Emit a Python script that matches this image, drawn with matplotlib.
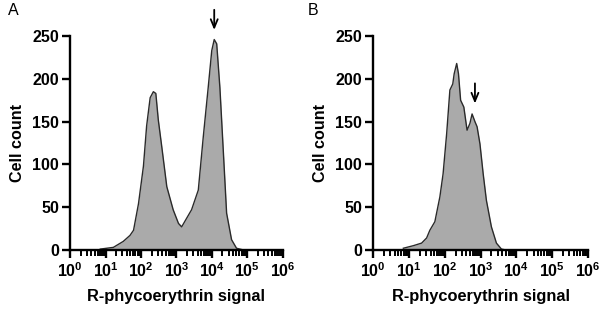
import matplotlib
matplotlib.use("Agg")
import matplotlib.pyplot as plt
import numpy as np

plt.rcParams['font.family'] = ['Liberation Sans', 'DejaVu Sans']
plt.rcParams['mathtext.fontset'] = 'custom'
plt.rcParams['mathtext.rm'] = 'Liberation Sans:bold'
plt.rcParams['mathtext.bf'] = 'Liberation Sans:bold'

# histogram outlines, x as log10 of signal
a_log = [0.85, 1.22, 1.50, 1.69, 1.79, 1.93, 2.07, 2.16, 2.26, 2.35, 2.42, 2.49, 2.59, 2.73,
         2.91, 3.06, 3.15, 3.29, 3.43, 3.62, 3.76, 3.90, 4.00, 4.07, 4.14, 4.23, 4.33, 4.42,
         4.56, 4.70, 4.89]
a_count = [1, 3, 10, 17, 23, 54, 98, 145, 178, 185, 183, 152, 120, 74,
           47, 31, 27, 37, 47, 70, 132, 190, 233, 246, 241, 190, 113, 43,
           12, 2, 0]

b_log = [0.84, 1.12, 1.35, 1.49, 1.58, 1.72, 1.86, 1.95, 2.05, 2.14, 2.22, 2.26, 2.33, 2.38,
         2.44, 2.53, 2.62, 2.70, 2.76, 2.84, 2.90, 2.98, 3.07, 3.16, 3.30, 3.44, 3.58, 3.70]
b_count = [2, 5, 8, 14, 23, 33, 62, 89, 136, 187, 194, 206, 218, 206,
           175, 167, 140, 148, 159, 150, 144, 124, 89, 58, 27, 8, 1, 0]

# arrows: x position (log10), from count, to count
a_arrow = (4.07, 284, 254)
b_arrow = (2.84, 198, 168)

yticks = [0, 50, 100, 150, 200, 250]
xticks = [1, 10, 100, 1e3, 1e4, 1e5, 1e6]
xlabels = [r'$10^{%d}$' % i for i in range(7)]

fig = plt.figure(figsize=(6.05, 3.14), dpi=100)
panels = [
    (fig.add_axes([0.116, 0.204, 0.351, 0.681]), a_log, a_count, a_arrow),
    (fig.add_axes([0.617, 0.204, 0.355, 0.681]), b_log, b_count, b_arrow),
]

for ax, xl, yc, arr in panels:
    x = 10 ** np.array(xl)
    ax.fill_between(x, 0, yc, color='#aaaaaa', linewidth=0)
    ax.plot(x, yc, color='#2a2a2a', lw=1.0)
    ax.set_xscale('log')
    ax.set_xlim(1, 1e6)
    ax.set_ylim(0, 250)
    ax.set_xticks(xticks)
    ax.set_xticklabels(xlabels, fontsize=11.5)
    ax.xaxis.set_minor_locator(matplotlib.ticker.LogLocator(base=10, subs=np.arange(2, 10), numticks=20))
    ax.xaxis.set_minor_formatter(matplotlib.ticker.NullFormatter())
    ax.set_yticks(yticks)
    ax.set_yticklabels([str(v) for v in yticks], fontsize=11.5, fontweight='bold')
    for s in ['top', 'right']:
        ax.spines[s].set_visible(False)
    for s in ['left', 'bottom']:
        ax.spines[s].set_linewidth(1.7)
    ax.tick_params(axis='both', which='major', direction='out', length=5.5, width=1.7, pad=2.5)
    ax.tick_params(axis='x', which='minor', direction='out', length=4, width=1.4)
    ax.set_xlabel('R-phycoerythrin signal', fontsize=11.8, fontweight='bold', labelpad=7)
    ax.set_ylabel('Cell count', fontsize=11.6, fontweight='bold', labelpad=5)
    ax.annotate('', xy=(10 ** arr[0], arr[2]), xytext=(10 ** arr[0], arr[1]),
                arrowprops=dict(arrowstyle='->,head_length=0.6,head_width=0.25', color='black', lw=1.3),
                annotation_clip=False)

fig.text(0.013, 0.952, 'A', fontsize=11.5)
fig.text(0.509, 0.952, 'B', fontsize=11.5)

fig.savefig('out.png', dpi=100)
